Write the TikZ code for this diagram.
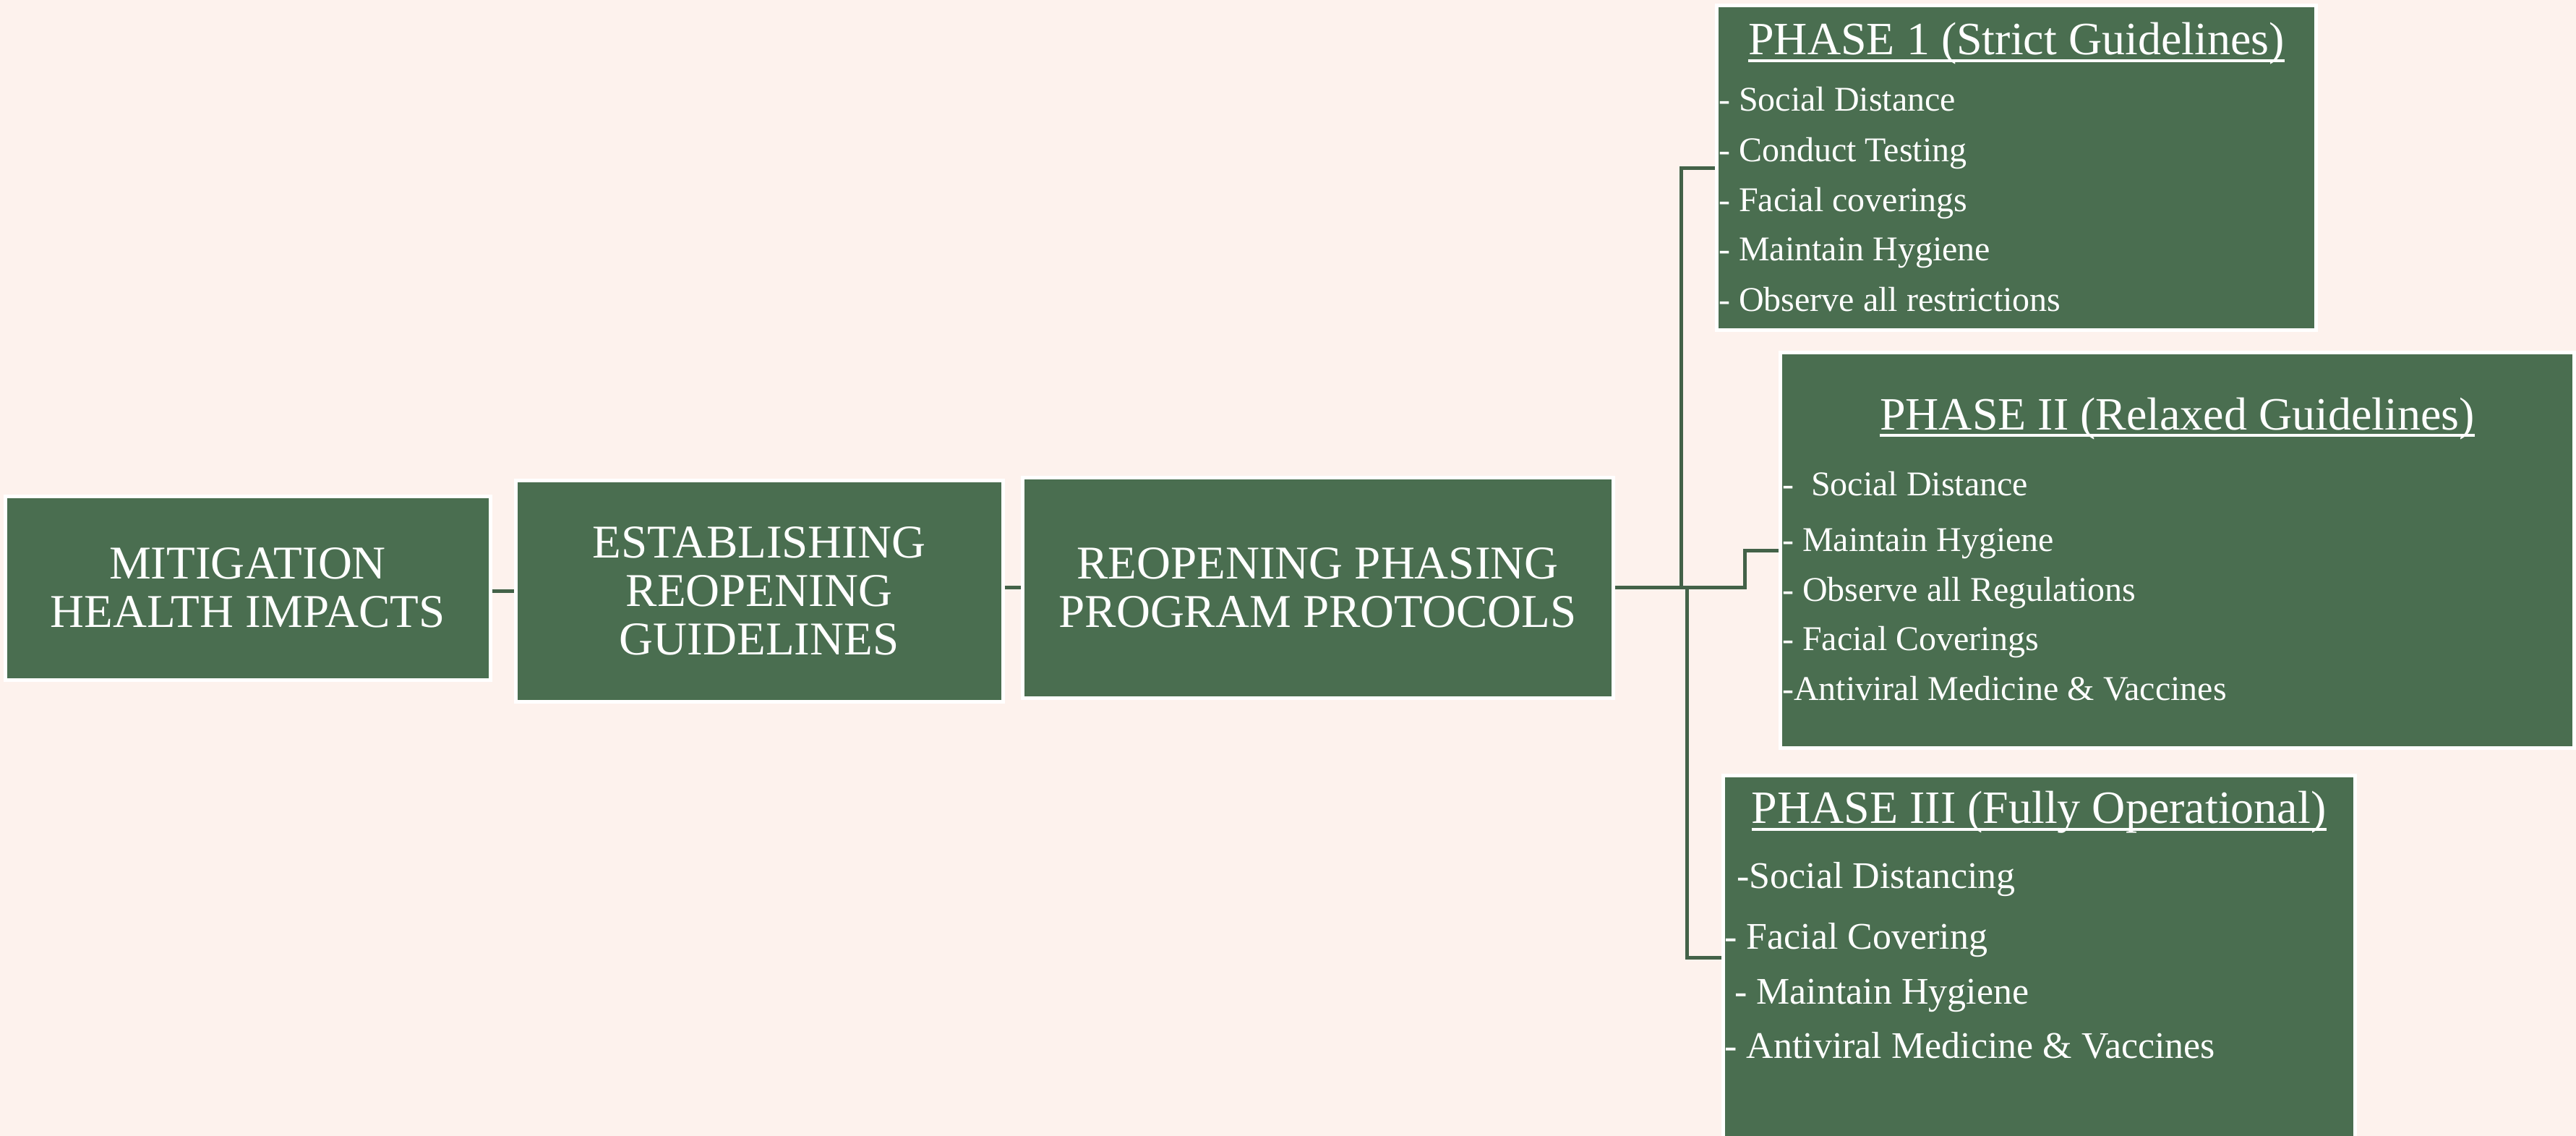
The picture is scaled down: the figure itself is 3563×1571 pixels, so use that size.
\documentclass[tikz,border=0pt]{standalone}
\usepackage{fontspec}
\setmainfont{Liberation Serif}
\usepackage{tikz}
\definecolor{bgPink}{RGB}{253,242,237}
\definecolor{boxGreen}{RGB}{74,110,80}
\definecolor{lineGreen}{RGB}{67,98,72}

\begin{document}
\begin{tikzpicture}[%
	x=1pt,y=-1pt,
	every node/.style={
		text=white,
		inner sep=0pt,
	},
	box/.style={
		draw=white,
		fill=boxGreen,
		line width=5pt,
		align=center,
		font=\fontsize{65}{67}\selectfont,
	},
	title/.style={
		anchor=base,
		font=\fontsize{64}{70}\selectfont,
	},
	item/.style={
		anchor=base west,
		font=\fontsize{48}{56}\selectfont,
	},
	bigitem/.style={
		anchor=base west,
		font=\fontsize{52}{60}\selectfont,
	},
	link/.style={
		draw=lineGreen,
		line width=5pt,
	},
	uline/.style={
		draw=white,
		line width=4pt,
	},
	]
	% background
	\clip (0,0) rectangle (3563,1571);
	\fill[bgPink] (0,0) rectangle (3563,1571);
	
	% draw main boxes
	\node[box, minimum width=671pt, minimum height=254pt] (mitig) at (342.5,813) {MITIGATION\\HEALTH IMPACTS};
	\node[box, minimum width=674pt, minimum height=306pt] (estab) at (1050,817) {ESTABLISHING\\REOPENING\\GUIDELINES};
	\node[box, minimum width=817pt, minimum height=305pt] (reopen) at (1822.5,812.5) {REOPENING PHASING\\PROGRAM PROTOCOLS};
	
	% draw phase boxes
	\node[box, minimum width=829pt, minimum height=449pt] (phaseI) at (2789,232) {};
	\node[box, minimum width=1098pt, minimum height=547pt] (phaseII) at (3011.5,761) {};
	\node[box, minimum width=874pt, minimum height=580pt] (phaseIII) at (2820,1362) {};
	
	% connectors
	\coordinate (forkUp) at (2325,812.5);
	\coordinate (forkDown) at (2333,812.5);
	\coordinate (stepII) at (2413,812.5);
	\coordinate (endIII) at (2333,1324);
	\draw[link] (mitig.east |- estab.west) -- (estab.west);
	\draw[link] (estab.east |- reopen.west) -- (reopen.west);
	\draw[link] (reopen.east) -- (stepII) |- (phaseII.west);
	\draw[link] (forkUp) |- (phaseI.west);
	\draw[link] (forkDown) -- (endIII) -- (endIII -| phaseIII.west);
	
	% phase 1
	\node[title] (titleI) at (2789,75) {PHASE 1 (Strict Guidelines)};
	\draw[uline] ([yshift=-9pt]titleI.base west) -- ([yshift=-9pt]titleI.base east);
	\node[item] (iA) at (2377,153) {- Social Distance};
	\node[item] (iB) at (2377,223) {- Conduct Testing};
	\node[item] (iC) at (2377,292) {- Facial coverings};
	\node[item] (iD) at (2377,360) {- Maintain Hygiene};
	\node[item] (iE) at (2377,430) {- Observe all restrictions};
	
	% phase 2
	\node[title] (titleII) at (3011.5,594) {PHASE II (Relaxed Guidelines)};
	\draw[uline] ([yshift=-8pt]titleII.base west) -- ([yshift=-8pt]titleII.base east);
	\node[item] (iiA) at (2465,685) {-\ \ Social Distance};
	\node[item] (iiB) at (2465,762) {- Maintain Hygiene};
	\node[item] (iiC) at (2465,831) {- Observe all Regulations};
	\node[item] (iiD) at (2465,899) {- Facial Coverings};
	\node[item] (iiE) at (2465,968) {-Antiviral Medicine \& Vaccines};
	
	% phase 3
	\node[title] (titleIII) at (2820,1138) {PHASE III (Fully Operational)};
	\draw[uline] ([yshift=-9pt]titleIII.base west) -- ([yshift=-9pt]titleIII.base east);
	\node[bigitem] (iiiA) at (2402,1228) {-Social Distancing};
	\node[bigitem] (iiiB) at (2385,1312) {- Facial Covering};
	\node[bigitem] (iiiC) at (2399,1388) {- Maintain Hygiene};
	\node[bigitem] (iiiD) at (2385,1463) {- Antiviral Medicine \& Vaccines};
\end{tikzpicture}
\end{document}
